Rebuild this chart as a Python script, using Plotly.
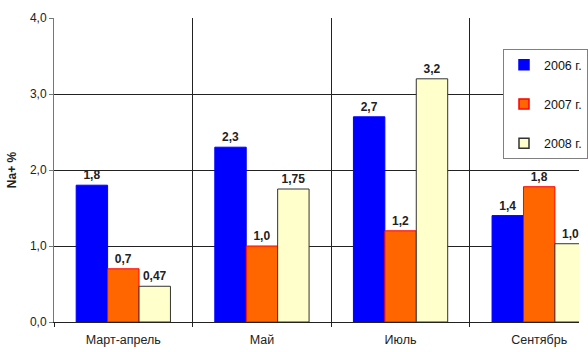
import plotly.graph_objects as go

categories = ["Март-апрель", "Май", "Июль", "Сентябрь"]
series_names = ["2006 г.", "2007 г.", "2008 г."]
v2006 = [1.8, 2.3, 2.7, 1.4]
v2007 = [0.7, 1.0, 1.2, 1.78]
v2008 = [0.47, 1.75, 3.2, 1.03]
l2006 = ["1,8", "2,3", "2,7", "1,4"]
l2007 = ["0,7", "1,0", "1,2", "1,8"]
l2008 = ["0,47", "1,75", "3,2", "1,0"]
y_ticks = [0, 1, 2, 3, 4]

fills = ["#0000FF", "#FF6600", "#FFFFCC"]
borders = ["#0000FF", "#FF0000", "#333333"]

fig = go.Figure()
for i, (vals, labs) in enumerate([(v2006, l2006), (v2007, l2007), (v2008, l2008)]):
    fig.add_trace(go.Bar(
        x=categories, y=vals, name=series_names[i],
        text=labs, textposition="outside", cliponaxis=False,
        textfont=dict(family="Liberation Sans, Arial", size=12, color="#222"),
        texttemplate="<b>%{text}</b>",
        marker=dict(color=fills[i], line=dict(color=borders[i], width=1)),
        showlegend=False,
    ))
# legend entries (square swatches)
for i in range(3):
    fig.add_trace(go.Scatter(
        x=[None], y=[None], mode="markers", name=series_names[i],
        marker=dict(symbol="square", size=10, color=fills[i],
                    line=dict(color=borders[i], width=1.5)),
        legendgroup=str(i), showlegend=True,
    ))

fig.update_layout(
    width=588, height=352,
    margin=dict(l=54, r=0, t=18, b=30),
    barmode="group", bargap=0.32, bargroupgap=0,
    plot_bgcolor="white", paper_bgcolor="white",
    separators=", ",
    font=dict(family="Liberation Sans, Arial", size=12, color="#222"),
    xaxis=dict(
        range=[-0.5, -0.5 + 534 / 141], tickson="boundaries",
        showgrid=True, gridcolor="#222", gridwidth=1,
        showline=True, linecolor="#222", linewidth=1,
        ticks="outside", ticklen=4, tickcolor="#222",
        tickfont=dict(size=12.5), automargin=False, ticklabelstandoff=6,
    ),
    yaxis=dict(
        range=[0, 4], tickvals=y_ticks, tickformat=".1f",
        showgrid=True, gridcolor="#222", gridwidth=1,
        showline=True, linecolor="#777", linewidth=1,
        ticks="outside", ticklen=4, tickcolor="#777",
        tickfont=dict(size=12),
        zeroline=False, automargin=False,
        title=dict(text="<b>Na+ %</b>", font=dict(size=12), standoff=10),
    ),
    legend=dict(
        x=(511 - 54) / 534, y=(322 - 49) / 304, xanchor="left", yanchor="top",
        bgcolor="white", bordercolor="#808080", borderwidth=1,
        font=dict(size=12.5, color="#111"), tracegroupgap=20,
        itemwidth=30,
    ),
    showlegend=True,
)

fig.write_html("out.html")
